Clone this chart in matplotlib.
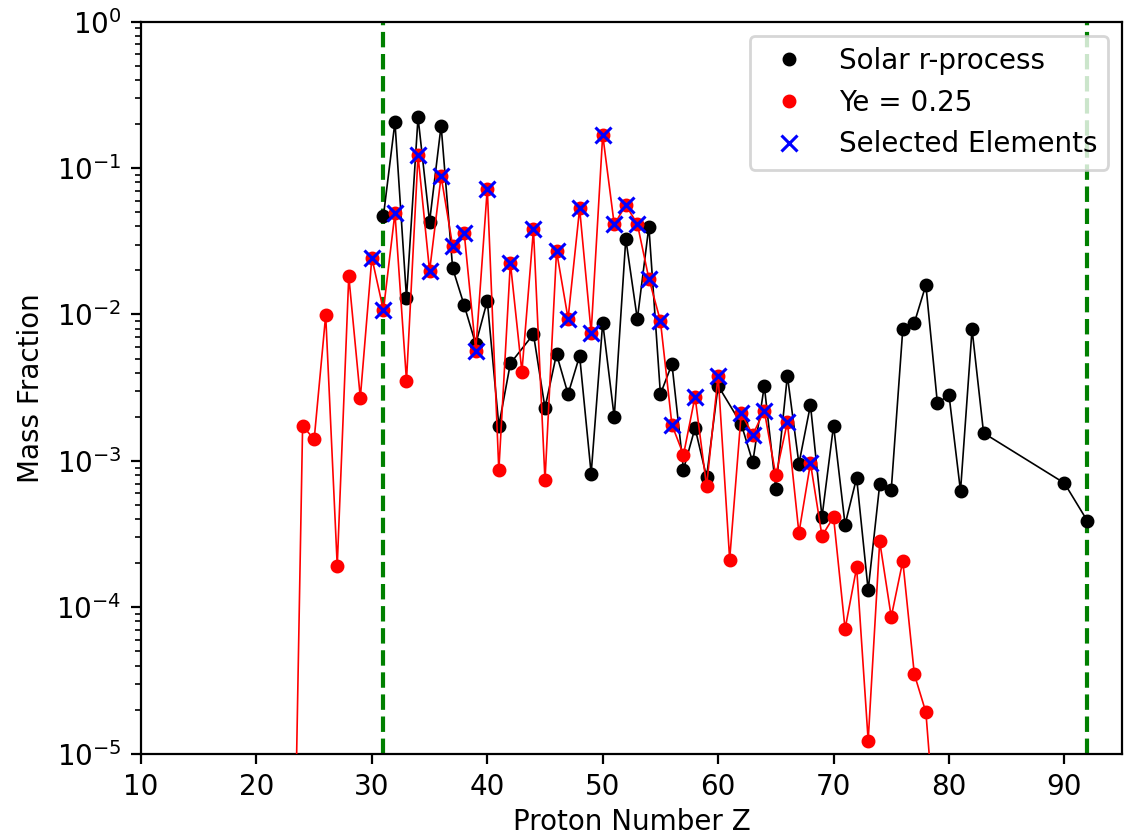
import matplotlib
matplotlib.use("Agg")
import matplotlib.pyplot as plt
import numpy as np

# Solar r-process abundances
solar_Z = [31, 32, 33, 34, 35, 36, 37, 38, 39, 40, 41, 42, 44, 45, 46, 47, 48, 49, 50,
           51, 52, 53, 54, 55, 56, 57, 58, 59, 60, 62, 63, 64, 65, 66, 67, 68, 69, 70,
           71, 72, 73, 74, 75, 76, 77, 78, 79, 80, 81, 82, 83, 90, 92]
solar_X = [4.7e-2, 0.206, 0.013, 0.222, 0.043, 0.195, 0.0207, 0.01156, 6.27e-3, 0.0124,
           1.74e-3, 4.63e-3, 7.34e-3, 2.3e-3, 5.37e-3, 2.86e-3, 5.22e-3, 8.17e-4, 8.8e-3,
           1.99e-3, 0.0329, 9.3e-3, 0.0399, 2.86e-3, 4.58e-3, 8.73e-4, 1.68e-3, 7.74e-4,
           3.26e-3, 1.79e-3, 9.8e-4, 3.25e-3, 6.45e-4, 3.82e-3, 9.55e-4, 2.41e-3, 4.14e-4,
           1.74e-3, 3.67e-4, 7.67e-4, 1.31e-4, 6.9e-4, 6.35e-4, 7.94e-3, 8.77e-3, 0.0159,
           2.47e-3, 2.83e-3, 6.22e-4, 7.94e-3, 1.55e-3, 7.05e-4, 3.88e-4]

# Ye = 0.25 model
ye_Z = list(range(23, 80))
ye_X = [8e-8, 1.74e-3, 1.40e-3, 9.9e-3, 1.92e-4, 1.83e-2, 2.7e-3, 2.44e-2, 1.07e-2,
        0.0494, 3.53e-3, 0.122, 0.0198, 0.088, 0.0293, 0.0361, 5.65e-3, 0.0725, 8.6e-4,
        0.0226, 4.06e-3, 0.0381, 7.35e-4, 0.0271, 9.38e-3, 0.053, 7.53e-3, 0.169, 0.0412,
        0.0558, 0.0416, 0.0176, 9.04e-3, 1.76e-3, 1.1e-3, 2.75e-3, 6.7e-4, 3.82e-3,
        2.12e-4, 2.11e-3, 1.51e-3, 2.2e-3, 7.95e-4, 1.84e-3, 3.22e-4, 9.65e-4, 3.07e-4,
        4.14e-4, 7.1e-5, 1.87e-4, 1.23e-5, 2.82e-4, 8.6e-5, 2.07e-4, 3.49e-5, 1.92e-5,
        1.9e-6]

# Selected elements (plotted on the Ye = 0.25 values)
selected_Z = [30, 31, 32, 34, 35, 36, 37, 38, 39, 40, 42, 44, 46, 47, 48, 49, 50, 51, 52,
              53, 54, 55, 56, 58, 60, 62, 63, 64, 66, 68]

# vertical boundaries
bounds_Z = [31, 92]

x_ticks = [10, 20, 30, 40, 50, 60, 70, 80, 90]

ye_lookup = dict(zip(ye_Z, ye_X))
sel_X = [ye_lookup[z] for z in selected_Z]

fig = plt.figure(figsize=(5.65, 4.175), dpi=200)
ax = fig.add_axes([0.1248, 0.0974, 0.993 - 0.1248, 0.974 - 0.0974])

ax.plot(solar_Z, solar_X, color='k', lw=0.6, zorder=2)
ax.plot(solar_Z, solar_X, 'o', color='k', ms=4, label='Solar r-process', zorder=3)
ax.plot(ye_Z, ye_X, color='r', lw=0.6, zorder=4)
ax.plot(ye_Z, ye_X, 'o', color='r', ms=4, label='Ye = 0.25', zorder=5)
ax.plot(selected_Z, sel_X, 'x', color='b', ms=6, mew=1.1, label='Selected Elements', zorder=6)

for b in bounds_Z:
    ax.axvline(b, color='g', ls='--', lw=1.5, zorder=1)

ax.set_yscale('log')
ax.set_ylim(1e-5, 1)
ax.set_xlim(10, 95)
ax.set_xticks(x_ticks)
ax.set_xlabel('Proton Number Z', labelpad=2.5)
ax.set_ylabel('Mass Fraction')
ax.legend(loc='upper right')

fig.savefig('out.png', dpi=200)
